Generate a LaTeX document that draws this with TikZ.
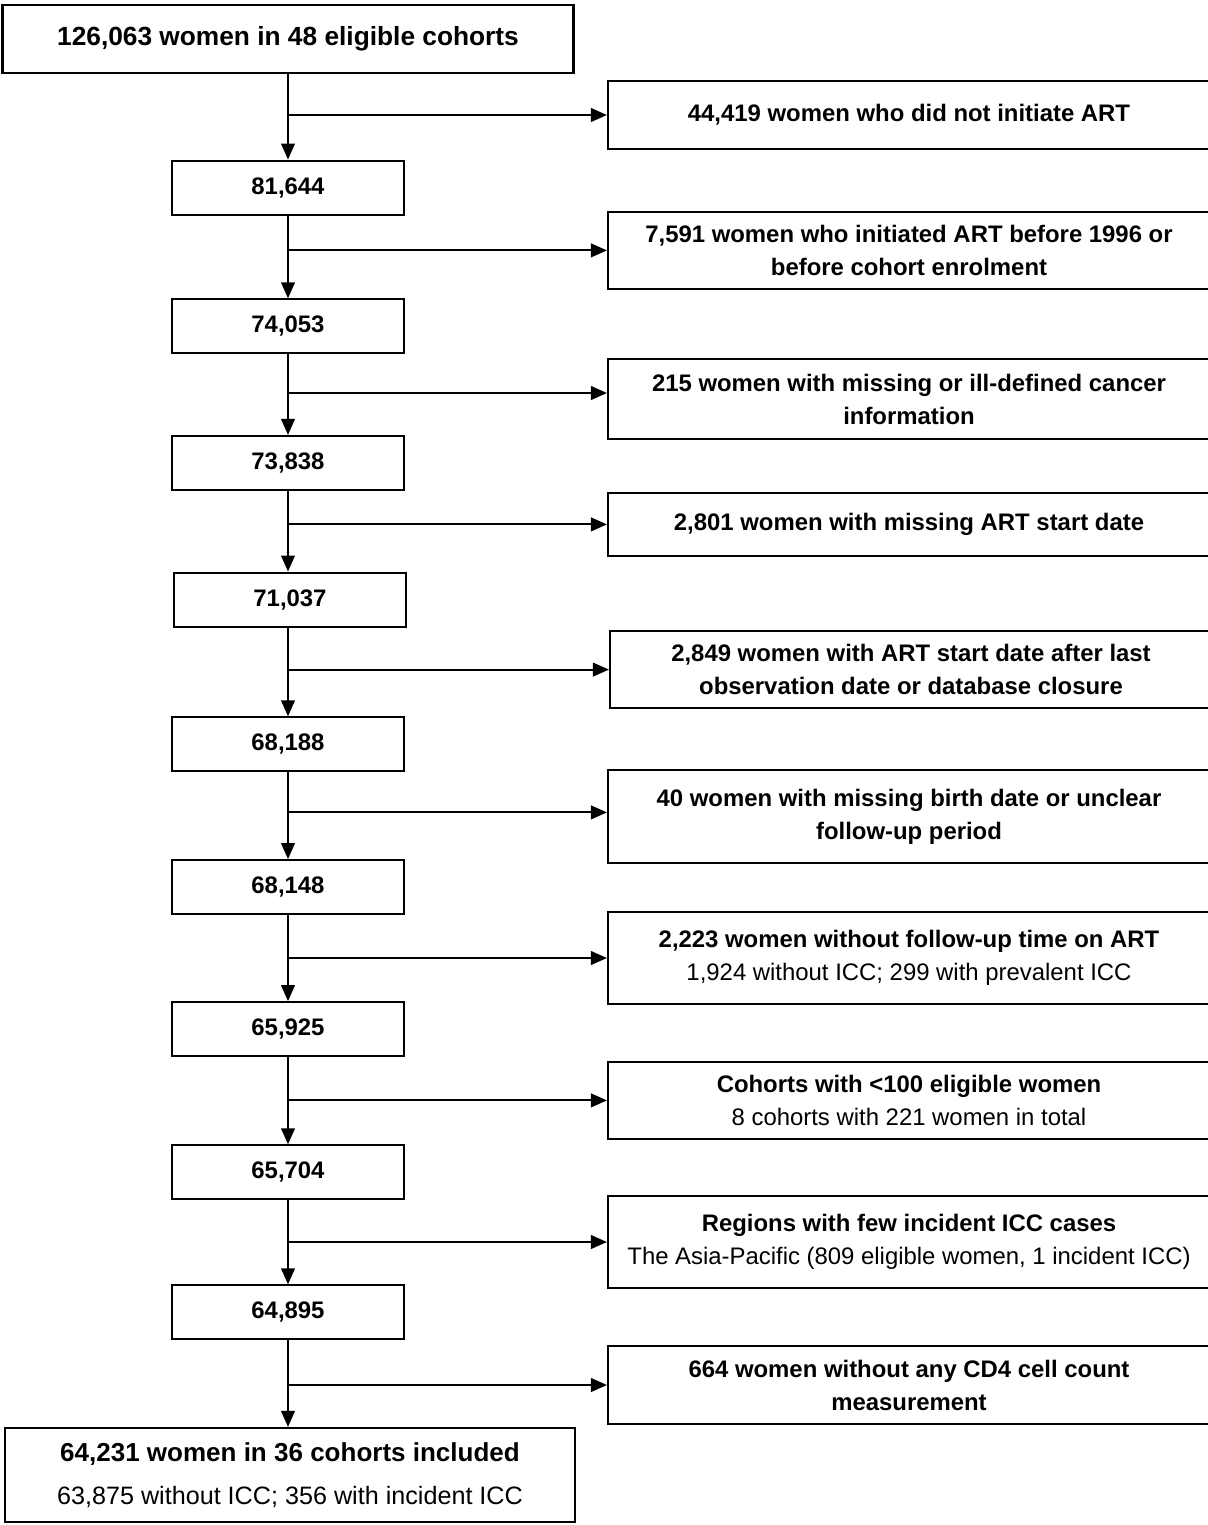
\documentclass[tikz,border=0pt]{standalone}
\usepackage{fontspec}
\setmainfont{Liberation Sans}
\usetikzlibrary{arrows.meta, positioning}

\begin{document}
\begin{tikzpicture}[every node/.style={font=\fontsize{17}{23.5}\selectfont\bfseries, align=center, inner sep=0pt},
  box/.style={draw, line width=1.5pt},
  countbox/.style={box, minimum width=5.8cm, minimum height=1.35cm},
  exclbox/.style={box, minimum width=15.05cm},
  flow/.style={line width=1.5pt, -{Triangle[length=0.4cm, width=0.34cm]}}]
  \useasboundingbox (0,0) rectangle (30.2,-38.125);

  % Start and included populations
  \node[box, minimum width=14.275cm, minimum height=1.7cm, font=\fontsize{18.7}{26}\selectfont\bfseries] (start) at (7.2,-0.975) {126,063 women in 48 eligible cohorts};
  \node[box, minimum width=14.25cm, minimum height=2.35cm, font=\fontsize{18.5}{30.5}\selectfont\bfseries] (final) at (7.25,-36.875) {64,231 women in 36 cohorts included\\ \mdseries\fontsize{17.9}{30.5}\selectfont 63,875 without ICC; 356 with incident ICC};

  % Remaining counts after each step
  \node[countbox] (n1) at (7.2,-4.69) {81,644};
  \node[countbox] (n2) at (7.2,-8.16) {74,053};
  \node[countbox] (n3) at (7.2,-11.575) {73,838};
  \node[countbox] (n4) at (7.25,-14.99) {71,037};
  \node[countbox] (n5) at (7.2,-18.61) {68,188};
  \node[countbox] (n6) at (7.2,-22.18) {68,148};
  \node[countbox] (n7) at (7.2,-25.73) {65,925};
  \node[countbox] (n8) at (7.2,-29.31) {65,704};
  \node[countbox] (n9) at (7.2,-32.81) {64,895};

  % Exclusions (right column)
  \node[exclbox, minimum height=1.7cm] (x1) at (22.725,-2.875) {44,419 women who did not initiate ART};
  \node[exclbox, minimum height=1.925cm] (x2) at (22.725,-6.26) {7,591 women who initiated ART before 1996 or\\ before cohort enrolment};
  \node[exclbox, minimum height=2cm] (x3) at (22.725,-9.975) {215 women with missing or ill-defined cancer\\ information};
  \node[exclbox, minimum height=1.575cm] (x4) at (22.725,-13.11) {2,801 women with missing ART start date};
  \node[exclbox, minimum height=1.925cm] (x5) at (22.775,-16.74) {2,849 women with ART start date after last\\ observation date or database closure};
  \node[exclbox, minimum height=2.325cm] (x6) at (22.725,-20.41) {40 women with missing birth date or unclear\\ follow-up period};
  \node[exclbox, minimum height=2.3cm] (x7) at (22.725,-23.95) {2,223 women without follow-up time on ART\\ \mdseries 1,924 without ICC; 299 with prevalent ICC};
  \node[exclbox, minimum height=1.925cm] (x8) at (22.725,-27.51) {Cohorts with <100 eligible women\\ \mdseries 8 cohorts with 221 women in total};
  \node[exclbox, minimum height=2.3cm] (x9) at (22.725,-31.05) {Regions with few incident ICC cases\\ \mdseries The Asia-Pacific (809 eligible women, 1 incident ICC)};
  \node[exclbox, minimum height=1.95cm] (x10) at (22.725,-34.625) {664 women without any CD4 cell count\\ measurement};

  % Main flow down the left column
  \draw[flow] (start.south -| n1.north) -- (n1.north);
  \draw[flow] (n1.south) -- (n2.north);
  \draw[flow] (n2.south) -- (n3.north);
  \draw[flow] (n3.south) -- (n4.north -| n3.south);
  \draw[flow] (n4.south -| n5.north) -- (n5.north);
  \draw[flow] (n5.south) -- (n6.north);
  \draw[flow] (n6.south) -- (n7.north);
  \draw[flow] (n7.south) -- (n8.north);
  \draw[flow] (n8.south) -- (n9.north);
  \draw[flow] (n9.south) -- (final.north -| n9.south);

  % Branches to the exclusions
  \draw[flow] (n1.north |- x1.west) -- (x1.west);
  \draw[flow] (n1.south |- x2.west) -- (x2.west);
  \draw[flow] ([yshift=0.15cm]n2.south |- x3.west) -- ([yshift=0.15cm]x3.west);
  \draw[flow] (n3.south |- x4.west) -- (x4.west);
  \draw[flow] (n5.north |- x5.west) -- (x5.west);
  \draw[flow] ([yshift=0.1cm]n5.south |- x6.west) -- ([yshift=0.1cm]x6.west);
  \draw[flow] (n6.south |- x7.west) -- (x7.west);
  \draw[flow] (n7.south |- x8.west) -- (x8.west);
  \draw[flow] (n8.south |- x9.west) -- (x9.west);
  \draw[flow] (n9.south |- x10.west) -- (x10.west);
\end{tikzpicture}
\end{document}
